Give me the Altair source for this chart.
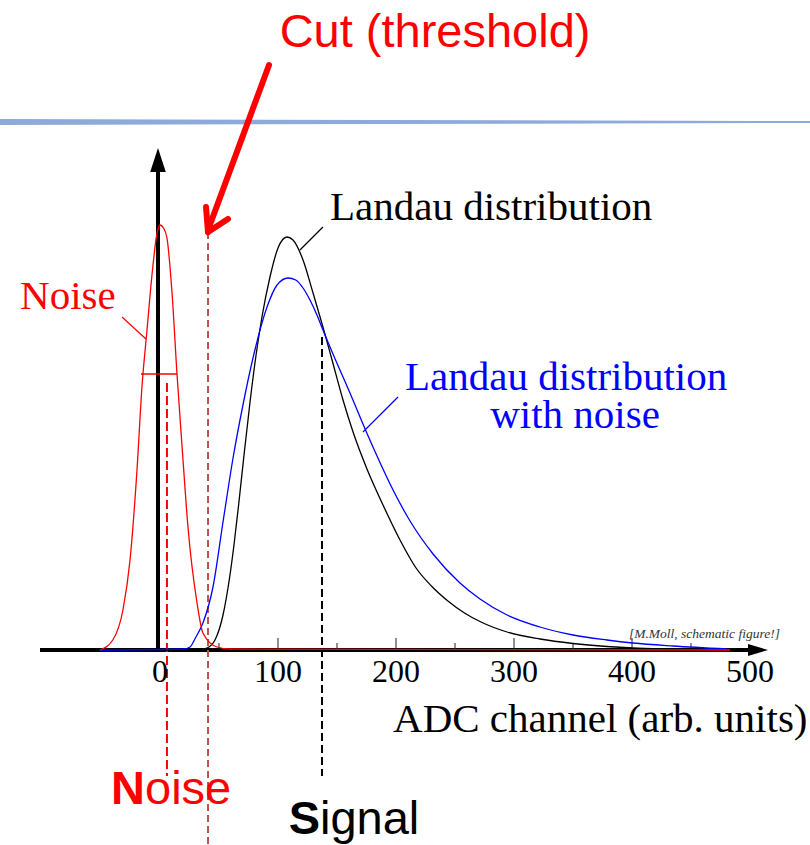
import altair as alt
import pandas as pd

# ---------------- data ----------------
# ADC channel (arb. units) vs. counts (arb. units)
noise_u = [-51, -40, -31.4, -25.4, -19.5, -15.3, -11, -6.8, -2.5, 0, 3, 5.9, 10.2, 14.4, 19.5, 23.7, 31.4, 36.4, 48.3, 59.3, 483]
noise_h = [0, 10, 40, 90, 180, 263, 320, 375, 417, 425, 422, 412, 357, 276, 190, 123, 47, 17, 3, 1, 0]

landau_u = [-51, 30, 34, 39.8, 46.6, 53.4, 59.3, 62.7, 66.9, 71.2, 76.3, 81.4, 86.4, 93.2, 100, 107.6, 112.7,
            121.2, 129.7, 138.1, 145.8, 155.1, 163.6, 175.4, 189.0, 203.4, 217.0, 230.0, 244.0, 258.0, 272.0,
            294.1, 322.0, 350.0, 378.8, 400.8, 434.7, 480.5]
landau_h = [0, 0, 0.5, 2, 10, 35, 75, 105, 148, 195, 248, 295, 333, 373, 402, 413, 410,
            390, 357, 323, 290, 250, 218, 181, 145, 110, 82, 64, 49, 37, 28,
            18, 11, 6.5, 3.5, 2, 1, 0]

lnoise_u = [-51, 20, 25.4, 30, 36.4, 44.9, 53.4, 61.9, 70.3, 78.8, 90.7, 99.2, 108.5, 115, 121.2, 127.1, 133,
            138.1, 146.6, 161.0, 172.0, 183.9, 197.5, 211.9, 231.4, 254.2, 271.2, 294.1, 322.0, 350.0, 378.8,
            400.8, 434.7, 480.5]
lnoise_h = [0, 1, 3, 12, 27, 63, 128, 192, 245, 292, 343, 365, 372, 370, 362, 350, 335,
            320, 296, 257, 226, 194, 160, 129, 96, 67, 51, 35, 23, 15, 10,
            7, 4, 1]

major_ticks = [100, 200, 300, 400]
minor_ticks = [50, 150, 250, 350, 450]
tick_labels = [0, 100, 200, 300, 400, 500]

noise_mean_u = 5.9      # red dashed line
cut_u = 40.7            # threshold
signal_mean_u = 137.3   # black dashed line
fwhm_u = [-16.1, 14.4]
fwhm_h = 276

# ---------------- layout helpers ----------------
W, H = 810, 845
X0PX, PXU, Y0PX = 160.0, 1.18, 650.0
XMIN, XMAX = -X0PX / PXU, (W - X0PX) / PXU
YMIN, YMAX = Y0PX - H, Y0PX

xs = alt.Scale(domain=[XMIN, XMAX], nice=False, zero=False)
ys = alt.Scale(domain=[YMIN, YMAX], nice=False, zero=False)
X = alt.X("u:Q", scale=xs, axis=None)
Y = alt.Y("h:Q", scale=ys, axis=None)


def curve(us, hs, color, width=1.3):
    df = pd.DataFrame({"u": us, "h": hs, "i": range(len(us))})
    return alt.Chart(df).mark_line(color=color, strokeWidth=width, interpolate="monotone").encode(
        x=X, y=Y, order="i:Q")


def segs(rows, color, width, dash=None, cap="butt"):
    kw = dict(color=color, strokeWidth=width, strokeCap=cap)
    if dash:
        kw["strokeDash"] = dash
    df = pd.DataFrame(rows, columns=["u", "h", "u2", "h2"])
    return alt.Chart(df).mark_rule(**kw).encode(x=X, y=Y, x2="u2:Q", y2="h2:Q")


def text(rows, **mark):
    df = pd.DataFrame(rows, columns=["u", "h", "t"])
    return alt.Chart(df).mark_text(baseline="alphabetic", **mark).encode(x=X, y=Y, text="t:N")


def arrowhead(u, h, path, size):
    df = pd.DataFrame({"u": [u], "h": [h]})
    return alt.Chart(df).mark_point(shape=path, size=size, filled=True, color="black",
                                    opacity=1, strokeWidth=0).encode(x=X, y=Y)


layers = []

# top decorative bar
bar = pd.DataFrame({"u": [XMIN, XMAX], "h": [528, 528], "w": [6, 2]})
layers.append(alt.Chart(bar).mark_trail(color="#8eaadb").encode(
    x=X, y=Y, size=alt.Size("w:Q", scale=None, legend=None)))

# axes
layers.append(segs([[-101.7, 0, 498.3, 0]], "black", 4))
layers.append(segs([[-1.7, 0, -1.7, 478]], "black", 4))
layers.append(arrowhead(506.8, 0, "M-1,-0.6L1,0L-1,0.6Z", 400))
layers.append(arrowhead(-1.7, 490, "M-0.65,1L0,-1L0.65,1Z", 576))
layers.append(segs([[t, 0, t, 12] for t in major_ticks], "#222", 1))
layers.append(segs([[t, 0, t, 7] for t in minor_ticks], "#222", 1))

# dashed guide lines
layers.append(segs([[cut_u, 418, cut_u, YMIN]], "#c0504d", 2, dash=[7, 4]))
layers.append(segs([[noise_mean_u, 267, noise_mean_u, -126]], "#ff0000", 2, dash=[9, 4]))
layers.append(segs([[signal_mean_u, 313, signal_mean_u, -126]], "black", 2, dash=[8, 4]))

# curves
layers.append(curve(landau_u, landau_h, "black"))
layers.append(curve(lnoise_u, lnoise_h, "#0000ff"))
layers.append(curve(noise_u, noise_h, "#ff0000"))
layers.append(segs([[fwhm_u[0], fwhm_h, fwhm_u[1], fwhm_h]], "#ff0000", 1.3))

# leader lines
layers.append(segs([[138.1, 423, 118.6, 400]], "black", 1.2))
layers.append(segs([[-32.2, 333, -11.9, 311]], "#ff0000", 1.2))
layers.append(segs([[201.7, 253, 172.0, 218]], "#0000ff", 1.2))

# red "cut" arrow
layers.append(segs([[92.4, 585, 40.7, 420],
                    [40.7, 418, 39.0, 443],
                    [40.7, 418, 57.6, 431]], "#ff0000", 6, cap="round"))

# texts
layers.append(text([[233.1, 603, "Cut (threshold)"]], font="Liberation Sans", fontSize=47,
                   color="#ff0000", align="center"))
layers.append(text([[144.1, 430, "Landau distribution"]], font="Liberation Serif", fontSize=41,
                   color="black", align="left"))
layers.append(text([[-118.6, 341, "Noise"]], font="Liberation Serif", fontSize=41,
                   color="#ff0000", align="left"))
layers.append(text([[207.6, 260, "Landau distribution"]], font="Liberation Serif", fontSize=41,
                   color="#0000ff", align="left"))
layers.append(text([[351.7, 222, "with noise"]], font="Liberation Serif", fontSize=41,
                   color="#0000ff", align="center"))
layers.append(text([[197.5, -82, "ADC channel (arb. units)"]], font="Liberation Serif", fontSize=41,
                   color="black", align="left"))
layers.append(text([[t, -32, str(t)] for t in tick_labels], font="Liberation Serif", fontSize=32,
                   color="black", align="center"))
layers.append(text([[525.4, 12, "[M.Moll, schematic figure!]"]], font="Liberation Serif", fontSize=13.5,
                   fontStyle="italic", color="#333333", align="right"))
layers.append(text([[-12.7, -154, "N"]], font="Liberation Sans", fontSize=47, fontWeight="bold",
                   color="#ff0000", align="right"))
layers.append(text([[-12.7, -154, "oise"]], font="Liberation Sans", fontSize=47,
                   color="#ff0000", align="left"))
layers.append(text([[135.6, -184, "S"]], font="Liberation Sans", fontSize=47, fontWeight="bold",
                   color="black", align="right"))
layers.append(text([[135.6, -184, "ignal"]], font="Liberation Sans", fontSize=47,
                   color="black", align="left"))

chart = alt.layer(*layers).properties(
    width=W, height=H, padding=0, autosize=alt.AutoSizeParams(type="none"), background="white"
).configure_view(stroke=None)

chart.save("out.html", embed_options={"renderer": "svg", "actions": False})
